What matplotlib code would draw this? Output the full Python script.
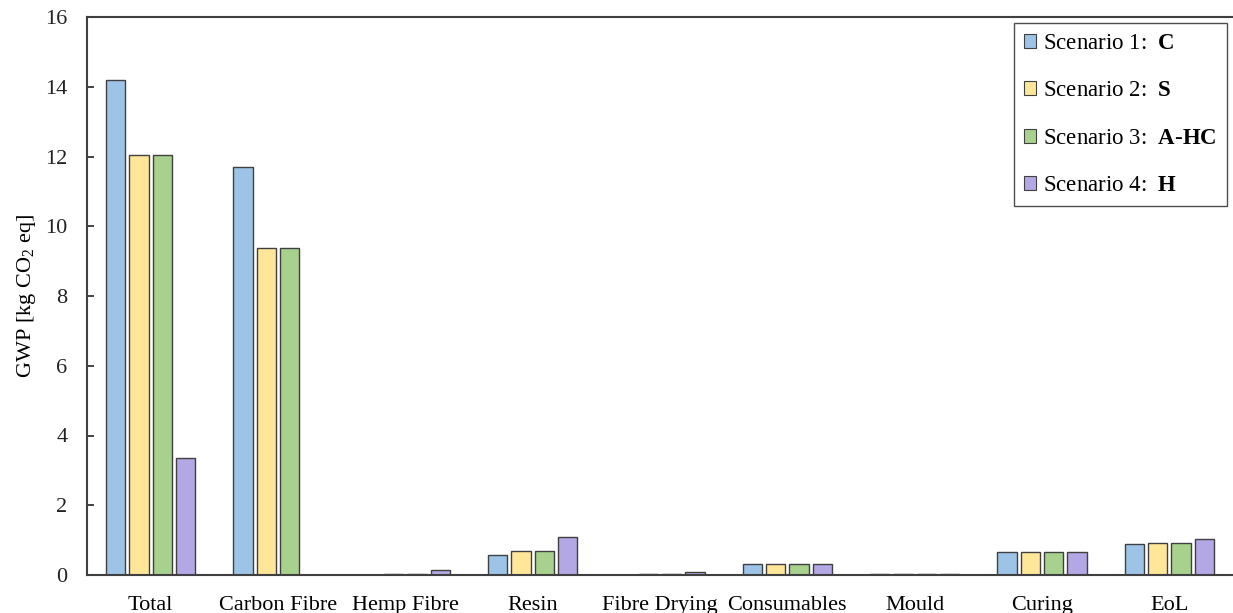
import matplotlib
matplotlib.use("Agg")
import matplotlib.pyplot as plt
import numpy as np

plt.rcParams['font.family'] = ['Liberation Serif', 'DejaVu Serif']
plt.rcParams['mathtext.fontset'] = 'custom'
plt.rcParams['mathtext.rm'] = 'Liberation Serif'
plt.rcParams['mathtext.it'] = 'Liberation Serif:italic'
plt.rcParams['mathtext.bf'] = 'Liberation Serif:bold'

categories = ["Total", "Carbon Fibre", "Hemp Fibre", "Resin", "Fibre Drying",
              "Consumables", "Mould", "Curing", "EoL"]
scenario_c = [14.2, 11.7, 0.0, 0.57, 0.0, 0.32, 0.04, 0.66, 0.89]
scenario_s = [12.03, 9.37, 0.03, 0.69, 0.03, 0.32, 0.04, 0.66, 0.91]
scenario_ahc = [12.03, 9.37, 0.03, 0.69, 0.03, 0.32, 0.04, 0.66, 0.91]
scenario_h = [3.35, 0.0, 0.14, 1.09, 0.09, 0.32, 0.04, 0.66, 1.04]
labels = [r"Scenario 1:  $\mathbf{C}$",
          r"Scenario 2:  $\mathbf{S}$",
          r"Scenario 3:  $\mathbf{A\text{-}HC}$",
          r"Scenario 4:  $\mathbf{H}$"]
colors = ["#9DC3E6", "#FFE699", "#A9D18E", "#B4A7E5"]

fig = plt.figure(figsize=(12.33, 6.13), dpi=100)
ax = fig.add_axes([87/1233, 1-575/613, 1-87/1233, (575-17)/613])

x = np.arange(len(categories))
series = [scenario_c, scenario_s, scenario_ahc, scenario_h]
step = 0.183
width = 0.152
for i, (vals, col, lab) in enumerate(zip(series, colors, labels)):
    ax.bar(x + (i - 1.5) * step, vals, width, color=col, edgecolor="#404040",
           linewidth=1.0, label=lab)

ax.set_xlim(-0.5, len(categories) - 0.5)
ax.set_ylim(0, 16)
ax.set_yticks(range(0, 17, 2))
ax.set_xticks(x)
ax.set_xticklabels(categories, fontsize=16)
ax.tick_params(axis='y', direction='in', length=5, width=1.2, labelsize=16, pad=14, colors="#222222")
ax.tick_params(axis='x', length=0, pad=15, labelsize=16)
ax.set_ylabel(r"GWP [kg CO$_2$ eq]", fontsize=16, labelpad=5)

for s in ['left', 'top', 'bottom']:
    ax.spines[s].set_color("#404040")
    ax.spines[s].set_linewidth(1.5)
ax.spines['right'].set_visible(False)

leg = ax.legend(loc="upper right", fontsize=16.5, frameon=True, fancybox=False,
                edgecolor="#222222", handlelength=0.55, handleheight=0.55,
                handletextpad=0.3, labelspacing=1.15, borderaxespad=0.25,
                borderpad=0.45)
leg.get_frame().set_linewidth(1.0)
for h in leg.legend_handles:
    h.set_linewidth(0.8)

fig.savefig("out.png", dpi=100)
